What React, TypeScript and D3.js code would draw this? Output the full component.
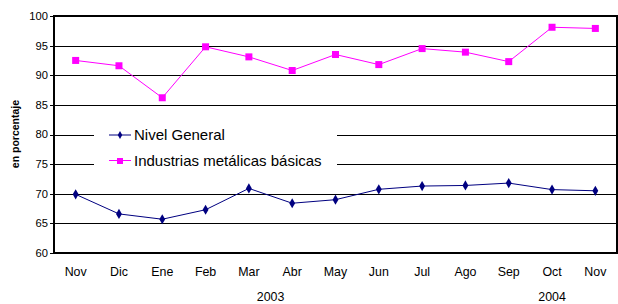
import React from "react";
import * as d3 from "d3";

const months = ["Nov", "Dic", "Ene", "Feb", "Mar", "Abr", "May", "Jun", "Jul", "Ago", "Sep", "Oct", "Nov"];
const nivelGeneral = [69.9, 66.6, 65.7, 67.3, 70.9, 68.4, 69.0, 70.75, 71.3, 71.4, 71.8, 70.7, 70.5];
const industrias = [92.5, 91.6, 86.2, 94.8, 93.1, 90.8, 93.5, 91.8, 94.5, 93.9, 92.3, 98.1, 97.9];
const yTicks = [60, 65, 70, 75, 80, 85, 90, 95, 100];
const years = ["2003", "2004"];
const yearStart = [0, 10];
const yearEnd = [9, 12];
const seriesNames = ["Nivel General", "Industrias metálicas básicas"];

const W = 618, H = 304;
const L = 54, R = 617, T = 16, B = 253;
const font = "Liberation Sans, Arial, sans-serif";

export default function App() {
  const idx = months.map((_, i) => String(i));
  const x = d3.scaleBand<string>().domain(idx).range([L, R]);
  const cx = (i: number) => (x(String(i)) as number) + x.bandwidth() / 2;
  const y = d3.scaleLinear().domain([60, 100]).range([B, T]);
  const line = d3.line<number>().x((_, i) => cx(i)).y((d) => y(d));
  const diamond = d3.symbol().type(d3.symbolDiamond).size(30)();
  const smallDiamond = d3.symbol().type(d3.symbolDiamond).size(18)();

  return (
    <svg width={W} height={H} style={{ position: "absolute", left: 0, top: 0 }} fontFamily={font}>
      <rect x={0} y={0} width={W} height={H} fill="#fff" />
      {yTicks.map((t) => (
        <g key={t}>
          {t !== 60 && t !== 100 && (
            <line x1={L} x2={R} y1={Math.round(y(t)) + 0.5} y2={Math.round(y(t)) + 0.5} stroke="#000" strokeWidth={1} />
          )}
          <line x1={L - 4} x2={L} y1={Math.round(y(t)) + 0.5} y2={Math.round(y(t)) + 0.5} stroke="#000" />
          <text x={L - 6} y={y(t)} dy="0.35em" textAnchor="end" fontSize={11.2} fill="#000">{t}</text>
        </g>
      ))}
      <rect x={L} y={T} width={R - L} height={B - T} fill="none" stroke="#000" strokeWidth={2} />
      <text transform={`translate(19,134) rotate(-90)`} textAnchor="middle" fontSize={10.5} fontWeight="bold" fill="#000">en porcentaje</text>
      {months.map((m, i) => (
        <text key={i} x={cx(i)} y={272} dy="0.35em" textAnchor="middle" fontSize={12.4} fill="#000">{m}</text>
      ))}
      {years.map((yr, k) => (
        <text key={yr} x={(cx(yearStart[k]) + cx(yearEnd[k])) / 2} y={297} dy="0.35em" textAnchor="middle" fontSize={12.4} fill="#000">{yr}</text>
      ))}
      <rect x={94} y={116} width={243} height={64} fill="#fff" />
      <path d={line(industrias) || ""} fill="none" stroke="#FF00FF" strokeWidth={1} />
      {industrias.map((v, i) => (
        <rect key={i} x={cx(i) - 3.5} y={y(v) - 3.5} width={7} height={7} fill="#FF00FF" />
      ))}
      <path d={line(nivelGeneral) || ""} fill="none" stroke="#000080" strokeWidth={1} />
      {nivelGeneral.map((v, i) => (
        <path key={i} d={diamond || ""} transform={`translate(${cx(i)},${y(v)})`} fill="#000080" />
      ))}
      <g>
        <line x1={109} x2={131} y1={135} y2={135} stroke="#000080" />
        <path d={smallDiamond || ""} transform="translate(120,135)" fill="#000080" />
        <text x={134} y={135} dy="0.35em" fontSize={15} fill="#000">{seriesNames[0]}</text>
        <line x1={109} x2={131} y1={160.5} y2={160.5} stroke="#FF00FF" />
        <rect x={117} y={158} width={6} height={6} fill="#FF00FF" />
        <text x={134} y={160.5} dy="0.35em" fontSize={15} fill="#000">{seriesNames[1]}</text>
      </g>
    </svg>
  );
}
